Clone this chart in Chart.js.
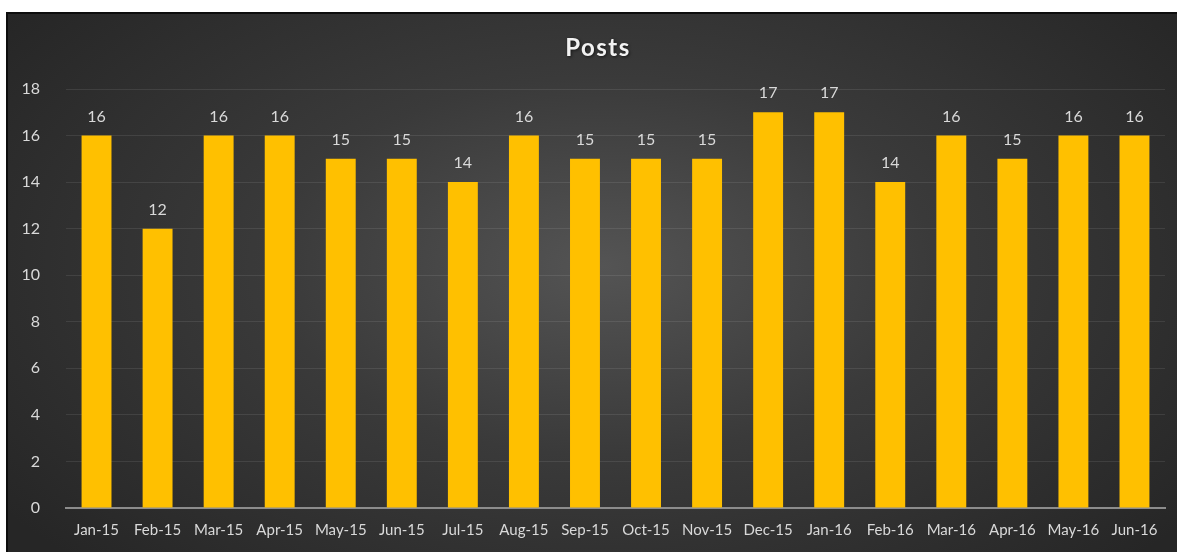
<!DOCTYPE html>
<html>
<head>
<meta charset="utf-8">
<script src="https://cdn.jsdelivr.net/npm/chart.js@4"></script>
<style>
  html, body { margin: 0; padding: 0; background: #fff; overflow: hidden; }
  #frame {
    position: absolute; left: 6px; top: 12px;
    width: 1190px; height: 560px;
    border: 2px solid #0d0d0d;
    background: radial-gradient(ellipse 62% 75% at 50% 45%, #545454 0%, #3a3a3a 45%, #262626 100%);
  }
  #wrap { position: absolute; left: 0; top: 0; width: 1180px; height: 538px; }
</style>
</head>
<body>
<div id="frame"><div id="wrap"><canvas id="postsChart"></canvas></div></div>
<script>
const months = ["Jan-15", "Feb-15", "Mar-15", "Apr-15", "May-15", "Jun-15", "Jul-15", "Aug-15", "Sep-15",
    "Oct-15", "Nov-15", "Dec-15", "Jan-16", "Feb-16", "Mar-16", "Apr-16", "May-16", "Jun-16"];
const posts = [16, 12, 16, 16, 15, 15, 14, 16, 15, 15, 15, 17, 17, 14, 16, 15, 16, 16];
const yTicks = [0, 2, 4, 6, 8, 10, 12, 14, 16, 18];

const textColor = "#d9d9d9";
const fontFamily = "Lato, 'Open Sans', sans-serif";

// title with a bit of spacing and a soft shadow, like the original
const chartTitle = {
    id: "chartTitle",
    afterDraw(chart) {
        const c = chart.ctx;
        c.save();
        c.font = "bold 24px " + fontFamily;
        c.letterSpacing = "1.5px";
        c.fillStyle = "#f2f2f2";
        c.textAlign = "center";
        c.textBaseline = "middle";
        c.shadowColor = "rgba(0,0,0,0.6)";
        c.shadowBlur = 3;
        c.shadowOffsetX = 1;
        c.shadowOffsetY = 1;
        c.fillText("Posts", 590, 34);
        c.restore();
    }
};

// value labels above each bar
const barLabels = {
    id: "barLabels",
    afterDatasetsDraw(chart) {
        const c = chart.ctx;
        const meta = chart.getDatasetMeta(0);
        c.save();
        c.fillStyle = textColor;
        c.font = "16px " + fontFamily;
        c.textAlign = "center";
        c.textBaseline = "bottom";
        meta.data.forEach((bar, i) => {
            c.fillText(posts[i], bar.x, bar.y - 11);
        });
        c.restore();
    }
};

new Chart(document.getElementById("postsChart"), {
    type: "bar",
    data: {
        labels: months,
        datasets: [{
            label: "Posts",
            data: posts,
            backgroundColor: "#ffc000",
            borderWidth: 0,
            categoryPercentage: 1,
            barPercentage: 0.49
        }]
    },
    options: {
        responsive: true,
        maintainAspectRatio: false,
        animation: false,
        layout: { padding: { left: 0, right: 23, top: 75, bottom: 0 } },
        plugins: {
            legend: { display: false },
            tooltip: { enabled: false },
            title: { display: false }
        },
        scales: {
            x: {
                ticks: {
                    color: textColor,
                    font: { family: fontFamily, size: 15 },
                    padding: 13,
                    maxRotation: 0,
                    autoSkip: false
                },
                grid: { display: false, drawTicks: false },
                border: { display: true, color: "#8c8c8c", width: 2 }
            },
            y: {
                min: 0,
                max: 18,
                afterFit(scale) { scale.width = 58; },
                afterBuildTicks(scale) { scale.ticks = yTicks.map(v => ({ value: v })); },
                ticks: {
                    color: textColor,
                    font: { family: fontFamily, size: 16 },
                    padding: 26
                },
                grid: { color: "rgba(255,255,255,0.09)", drawTicks: false },
                border: { display: false }
            }
        }
    },
    plugins: [barLabels, chartTitle]
});
</script>
</body>
</html>
